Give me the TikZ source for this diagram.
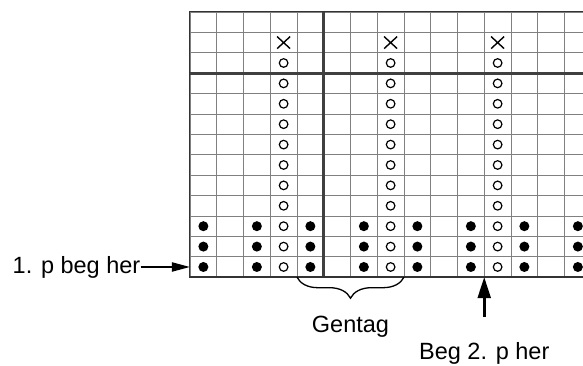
\documentclass[tikz,border=0pt]{standalone}
\usepackage{fontspec}
\setmainfont{Liberation Sans}
\usetikzlibrary{arrows.meta,decorations.pathreplacing}

\begin{document}
\begin{tikzpicture}[x=26.75pt,y=20.4pt,
	thin grid/.style={black!50,line width=0.9pt},
	heavy grid/.style={black!75,line width=2.8pt},
	lbl/.style={font=\fontsize{23.5}{27}\selectfont,inner sep=0pt},
	pointer/.style={line width=2pt,-{Triangle[length=18pt,width=9pt]}},
	big pointer/.style={line width=2.6pt,-{Triangle[length=21pt,width=13pt]}}]
	\useasboundingbox (-7.103,-4.314) rectangle (14.692,13.588);
	\begin{scope}
		\clip (-0.1,-0.3) rectangle (14.692,13.3);
		\draw[thin grid,step=1] (0,0) grid (15,13);
		\foreach \k in {0,4,8,12} {
			\foreach \r in {0,1,2} {
				\fill (\k+0.5,\r+0.5) circle (5pt);
				\fill (\k+2.5,\r+0.5) circle (5pt);
			}
			\foreach \r in {0,...,10}
				\draw[line width=1.2pt] (\k+3.5,\r+0.5) circle (4.3pt);
			\draw[line width=1.4pt] (\k+3.5,11.5) ++(-6.5pt,-6pt) -- ++(13pt,12pt)
				++(-13pt,0) -- ++(13pt,-12pt);
		}
		\draw[heavy grid] (0,10) -- (15,10);
		\draw[heavy grid] (5,0) -- (5,13);
		\draw[black!80,line width=1pt] (0,0) rectangle (15,13);
		\draw[black!80,line width=2.4pt] (0,0) -- (15,0);
	\end{scope}
	% start of the first row
	\node[lbl,anchor=base east] (lblStart) at (-1.85,0.2) {1. p beg her};
	\coordinate (startCell) at (0,0.5);
	\draw[pointer] (lblStart.east |- startCell) -- (startCell);
	% repeat
	\draw[decorate,decoration={brace,mirror,amplitude=21pt},line width=1.3pt] (4,0) -- (8,0);
	\node[lbl,anchor=base] (lblRepeat) at (6,-2.70) {Gentag};
	% start of the second row
	\coordinate (secondTail) at (11,-1.96);
	\coordinate (secondCol) at (11,0);
	\draw[big pointer] (secondTail) -- (secondCol);
	\node[lbl,anchor=base] (lblSecond) at (11,-4.05) {Beg 2. p her};
\end{tikzpicture}
\end{document}
